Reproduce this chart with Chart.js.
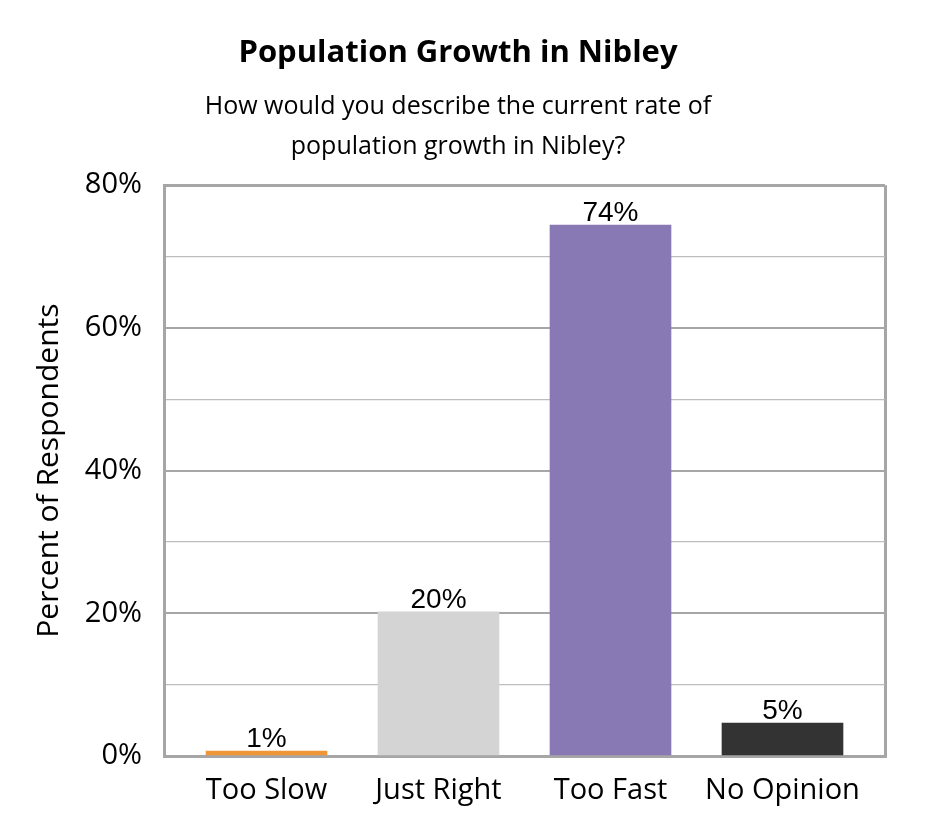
<!DOCTYPE html>
<html>
<head>
<meta charset="utf-8">
<script src="https://cdn.jsdelivr.net/npm/chart.js@4/dist/chart.umd.min.js"></script>
<style>
  html, body { margin: 0; padding: 0; background: #fff; }
  #wrap { width: 945px; height: 840px; }
</style>
</head>
<body>
<div id="wrap"><canvas id="c" width="945" height="840"></canvas></div>
<script>
// -- data --
const categories = ['Too Slow', 'Just Right', 'Too Fast', 'No Opinion']
const percents = [0.7, 20.2, 74.4, 4.6]
const barColors = ['#EF9636', '#D4D4D4', '#8879B5', '#333333']
const yTicks = [0, 20, 40, 60, 80]

const FONT = '"Open Sans", sans-serif'
const frameColor = '#A6A6A6'

// x is linear so the frame can sit a little outside the outer bars, like the original
const xMin = -0.596
const xMax = 3.596

// value labels above each bar
const barLabels = {
  id: 'barLabels',
  afterDatasetsDraw(chart) {
    const ctx = chart.ctx
    const meta = chart.getDatasetMeta(0)
    ctx.save()
    ctx.font = '28px "Liberation Sans", Arial, sans-serif'
    ctx.fillStyle = '#000'
    ctx.textAlign = 'center'
    ctx.textBaseline = 'alphabetic'
    meta.data.forEach((bar, i) => {
      ctx.fillText(Math.round(percents[i]) + '%', bar.x, bar.y - 4)
    })
    ctx.restore()
  }
}

new Chart(document.getElementById('c'), {
  type: 'bar',
  data: {
    datasets: [{
      data: percents.map((v, i) => ({ x: i, y: v })),
      backgroundColor: barColors,
      borderWidth: 0,
      barThickness: 121
    }]
  },
  options: {
    responsive: false,
    animation: false,
    devicePixelRatio: 1,
    layout: { padding: { left: 31, right: 60, top: 0, bottom: 20 } },
    plugins: {
      legend: { display: false },
      tooltip: { enabled: false },
      title: {
        display: true,
        text: 'Population Growth in Nibley',
        color: '#000',
        font: { family: FONT, size: 31, weight: 'bold', lineHeight: 1.2 },
        padding: { top: 35, bottom: 15 }
      },
      subtitle: {
        display: true,
        text: ['How would you describe the current rate of', 'population growth in Nibley?'],
        color: '#000',
        font: { family: FONT, size: 25, lineHeight: 1.6 },
        padding: { top: 0, bottom: 18 }
      }
    },
    scales: {
      x: {
        type: 'linear',
        offset: false,
        bounds: 'data',
        min: xMin,
        max: xMax,
        afterBuildTicks: s => {
          s.min = xMin
          s.max = xMax
          s.ticks = [xMin, 0, 1, 2, 3, xMax].map(v => ({ value: v }))
        },
        afterFit: s => { s.height = 64 },
        ticks: {
          autoSkip: false,
          maxRotation: 0,
          padding: 17,
          color: '#000',
          font: { family: FONT, size: 29 },
          callback: v => Number.isInteger(v) ? categories[v] : ''
        },
        grid: {
          offset: false,
          drawTicks: false,
          color: c => (c.tick && c.tick.value === xMax) ? frameColor : 'rgba(0,0,0,0)',
          lineWidth: 3
        },
        border: { display: true, color: frameColor, width: 3 }
      },
      y: {
        min: 0,
        max: 80,
        afterBuildTicks: s => { s.ticks = [0, 10, 20, 30, 40, 50, 60, 70, 80].map(v => ({ value: v })) },
        afterFit: s => { s.width = 133 },
        ticks: {
          padding: 22,
          color: '#000',
          font: { family: FONT, size: 29 },
          callback: v => yTicks.includes(v) ? v + '%' : ''
        },
        grid: {
          drawTicks: false,
          color: c => c.tick.value % 20 === 0 ? frameColor : '#BDBDBD',
          lineWidth: c => c.tick.value === 80 ? 3 : (c.tick.value % 20 === 0 ? 2 : 1.2)
        },
        border: { display: true, color: frameColor, width: 3 },
        title: {
          display: true,
          text: 'Percent of Respondents',
          color: '#000',
          font: { family: FONT, size: 30 },
          padding: { top: 0, bottom: 0 }
        }
      }
    }
  },
  plugins: [barLabels]
})
</script>
</body>
</html>
